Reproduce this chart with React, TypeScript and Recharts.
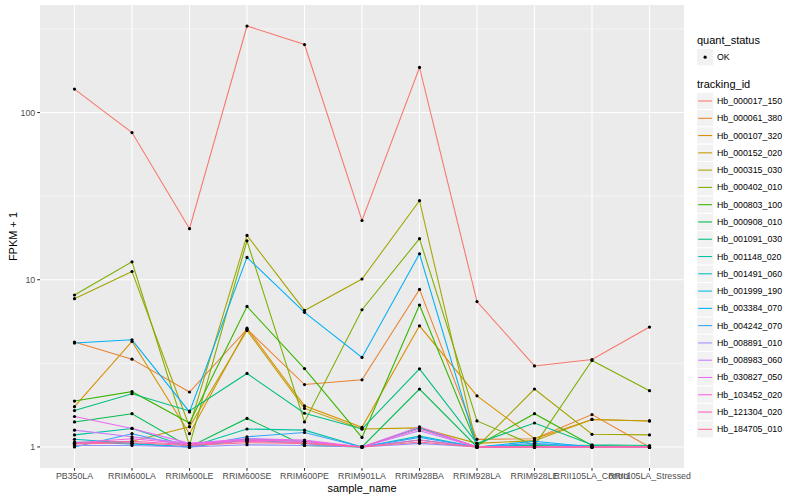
import { ComposedChart, Line, XAxis, YAxis, CartesianGrid, ReferenceLine, Label } from "recharts";

const sampleNames = [
  "PB350LA",
  "RRIM600LA",
  "RRIM600LE",
  "RRIM600SE",
  "RRIM600PE",
  "RRIM901LA",
  "RRIM928BA",
  "RRIM928LA",
  "RRIM928LE",
  "RRII105LA_Control",
  "RRII105LA_Stressed",
];

const trackingIds = [
  "Hb_000017_150",
  "Hb_000061_380",
  "Hb_000107_320",
  "Hb_000152_020",
  "Hb_000315_030",
  "Hb_000402_010",
  "Hb_000803_100",
  "Hb_000908_010",
  "Hb_001091_030",
  "Hb_001148_020",
  "Hb_001491_060",
  "Hb_001999_190",
  "Hb_003384_070",
  "Hb_004242_070",
  "Hb_008891_010",
  "Hb_008983_060",
  "Hb_030827_050",
  "Hb_103452_020",
  "Hb_121304_020",
  "Hb_184705_010",
];

// ggplot default hue palette for 20 levels
const hueColors = [
  "#F8766D", "#EA8331", "#D89000", "#C09B00", "#A3A500",
  "#7CAE00", "#39B600", "#00BB4E", "#00BF7D", "#00C1A3",
  "#00BFC4", "#00BAE0", "#00B0F6", "#35A2FF", "#9590FF",
  "#C77CFF", "#E76BF3", "#FA62DB", "#FF62BC", "#FF6C91",
];

// FPKM + 1 per sample
const hb000017_150 = [138, 75.9, 20.2, 329, 255, 22.6, 186, 7.4, 3.05, 3.33, 5.21];
const hb000061_380 = [4.24, 3.35, 2.13, 5.06, 2.36, 2.52, 8.75, 1.11, 1.12, 1.56, 1.0];
const hb000107_320 = [1.74, 4.27, 1.2, 5.13, 1.76, 1.31, 5.3, 2.02, 1.12, 1.46, 1.43];
const hb000152_020 = [1.05, 1.08, 1.32, 4.97, 1.7, 1.28, 1.3, 1.05, 1.09, 1.46, 1.43];
const hb000315_030 = [7.7, 11.2, 1.32, 18.4, 6.55, 10.1, 29.7, 1.0, 2.22, 1.19, 1.18];
const hb000402_010 = [8.1, 12.8, 1.02, 17.1, 1.41, 6.61, 17.6, 1.43, 1.02, 3.29, 2.17];
const hb000803_100 = [1.88, 2.14, 1.39, 6.92, 2.94, 1.14, 7.06, 1.02, 1.58, 1.02, 1.0];
const hb000908_010 = [1.41, 1.58, 1.0, 1.48, 1.02, 1.0, 2.22, 1.0, 1.02, 1.0, 1.0];
const hb001091_030 = [1.65, 2.08, 1.64, 2.75, 1.59, 1.28, 2.93, 1.05, 1.39, 1.03, 1.02];
const hb001148_020 = [1.18, 1.29, 1.0, 1.28, 1.26, 1.0, 1.3, 1.0, 1.03, 1.02, 1.0];
const hb001491_060 = [1.11, 1.05, 1.0, 1.12, 1.08, 1.0, 1.16, 1.0, 1.0, 1.0, 1.0];
const hb001999_190 = [1.07, 1.04, 1.0, 1.1, 1.05, 1.0, 1.1, 1.0, 1.0, 1.0, 1.0];
const hb003384_070 = [4.18, 4.37, 1.62, 13.6, 6.38, 3.43, 14.3, 1.0, 1.08, 1.0, 1.0];
const hb004242_070 = [1.0, 1.2, 1.0, 1.15, 1.22, 1.0, 1.14, 1.0, 1.05, 1.0, 1.0];
const hb008891_010 = [1.02, 1.02, 1.0, 1.03, 1.02, 1.0, 1.05, 1.0, 1.0, 1.0, 1.0];
const hb008983_060 = [1.26, 1.15, 1.05, 1.1, 1.08, 1.0, 1.25, 1.0, 1.0, 1.0, 1.0];
const hb030827_050 = [1.52, 1.29, 1.05, 1.12, 1.1, 1.0, 1.32, 1.0, 1.0, 1.0, 1.0];
const hb103452_020 = [1.06, 1.12, 1.04, 1.1, 1.08, 1.0, 1.28, 1.0, 1.0, 1.0, 1.0];
const hb121304_020 = [1.05, 1.08, 1.03, 1.08, 1.06, 1.0, 1.1, 1.0, 1.0, 1.0, 1.0];
const hb184705_010 = [1.04, 1.06, 1.02, 1.06, 1.05, 1.0, 1.07, 1.0, 1.0, 1.0, 1.0];

const seriesValues = [
  hb000017_150, hb000061_380, hb000107_320, hb000152_020, hb000315_030,
  hb000402_010, hb000803_100, hb000908_010, hb001091_030, hb001148_020,
  hb001491_060, hb001999_190, hb003384_070, hb004242_070, hb008891_010,
  hb008983_060, hb030827_050, hb103452_020, hb121304_020, hb184705_010,
];

const yTicks = [1, 10, 100];
const yMinorTicks = [3.162, 31.62, 316.2];
const yDomain = [0.748, 439.5];
const xTicks = sampleNames.map((_, i) => i);

const FONT = "'Liberation Sans', Arial, Helvetica, sans-serif";

const data = sampleNames.map((name, i) => {
  const row: Record<string, number | string> = { idx: i, sample_name: name };
  trackingIds.forEach((id, s) => {
    row[id] = seriesValues[s][i];
  });
  return row;
});

function XTitle({ viewBox }: any) {
  const cx = viewBox.x + viewBox.width / 2;
  return (
    <text x={cx} y={492} textAnchor="middle" fontSize={11} fontFamily={FONT} fill="#000">
      sample_name
    </text>
  );
}

function YTitle({ viewBox }: any) {
  const cy = viewBox.y + viewBox.height / 2;
  return (
    <text
      x={17}
      y={cy}
      transform={`rotate(-90 17 ${cy})`}
      textAnchor="middle"
      fontSize={11}
      fontFamily={FONT}
      fill="#000"
    >
      FPKM + 1
    </text>
  );
}

function GgLegend() {
  const keyX = 696.5;
  const keySize = 17.28;
  const firstY = 101;
  return (
    <svg
      width={800}
      height={500}
      style={{ position: "absolute", left: 0, top: 0, pointerEvents: "none" }}
    >
      <text x={697} y={44} fontSize={11} fontFamily={FONT} fill="#000">
        quant_status
      </text>
      <rect x={keyX} y={57.2 - keySize / 2} width={keySize} height={keySize} fill="#F2F2F2" stroke="#fff" strokeWidth={1} />
      <circle cx={keyX + keySize / 2} cy={57.2} r={1.6} fill="#000" />
      <text x={717} y={57.2} dominantBaseline="central" fontSize={8.8} fontFamily={FONT} fill="#000">
        OK
      </text>
      <text x={697} y={87.5} fontSize={11} fontFamily={FONT} fill="#000">
        tracking_id
      </text>
      {trackingIds.map((id, i) => {
        const cy = firstY + i * keySize;
        return (
          <g key={id}>
            <rect x={keyX} y={cy - keySize / 2} width={keySize} height={keySize} fill="#F2F2F2" stroke="#fff" strokeWidth={1} />
            <line x1={keyX + 1.7} x2={keyX + keySize - 1.7} y1={cy} y2={cy} stroke={hueColors[i]} strokeWidth={1.07} />
            <text x={717} y={cy} dominantBaseline="central" fontSize={8.8} fontFamily={FONT} fill="#000">
              {id}
            </text>
          </g>
        );
      })}
    </svg>
  );
}

export default function App() {
  return (
    <div style={{ position: "absolute", left: 0, top: 0, width: 800, height: 500, background: "#fff" }}>
      <ComposedChart
        width={800}
        height={500}
        data={data}
        margin={{ top: 5, right: 116, bottom: 0, left: 0 }}
      >
        <CartesianGrid
          fill="#EBEBEB"
          fillOpacity={1}
          stroke="#FFFFFF"
          strokeWidth={1.07}
          horizontalValues={yTicks}
          verticalValues={xTicks}
        />
        {yMinorTicks.map((v) => (
          <ReferenceLine key={v} y={v} stroke="#FFFFFF" strokeWidth={0.53} ifOverflow="hidden" />
        ))}
        <XAxis
          dataKey="idx"
          type="number"
          domain={[-0.6, 10.6]}
          ticks={xTicks}
          interval={0}
          tickFormatter={(i: number) => sampleNames[i]}
          axisLine={false}
          tickLine={{ stroke: "#333333", strokeWidth: 1.07 }}
          tickSize={2.74}
          tickMargin={2}
          height={32}
          tick={{ fill: "#4D4D4D", fontSize: 8.8, fontFamily: FONT }}
        >
          <Label content={<XTitle />} />
        </XAxis>
        <YAxis
          type="number"
          scale="log"
          domain={yDomain}
          allowDataOverflow
          ticks={yTicks}
          interval={0}
          axisLine={false}
          tickLine={{ stroke: "#333333", strokeWidth: 1.07 }}
          tickSize={2.74}
          tickMargin={2}
          width={40}
          tick={{ fill: "#4D4D4D", fontSize: 8.8, fontFamily: FONT }}
        >
          <Label content={<YTitle />} />
        </YAxis>
        {trackingIds.map((id, i) => (
          <Line
            key={`line-${id}`}
            type="linear"
            dataKey={id}
            stroke={hueColors[i]}
            strokeWidth={1.07}
            dot={false}
            activeDot={false}
            isAnimationActive={false}
          />
        ))}
        {trackingIds.map((id) => (
          <Line
            key={`pt-${id}`}
            type="linear"
            dataKey={id}
            stroke="none"
            strokeWidth={0}
            dot={{ r: 1.6, fill: "#000", stroke: "none" }}
            activeDot={false}
            isAnimationActive={false}
            legendType="none"
          />
        ))}
      </ComposedChart>
      <GgLegend />
    </div>
  );
}
